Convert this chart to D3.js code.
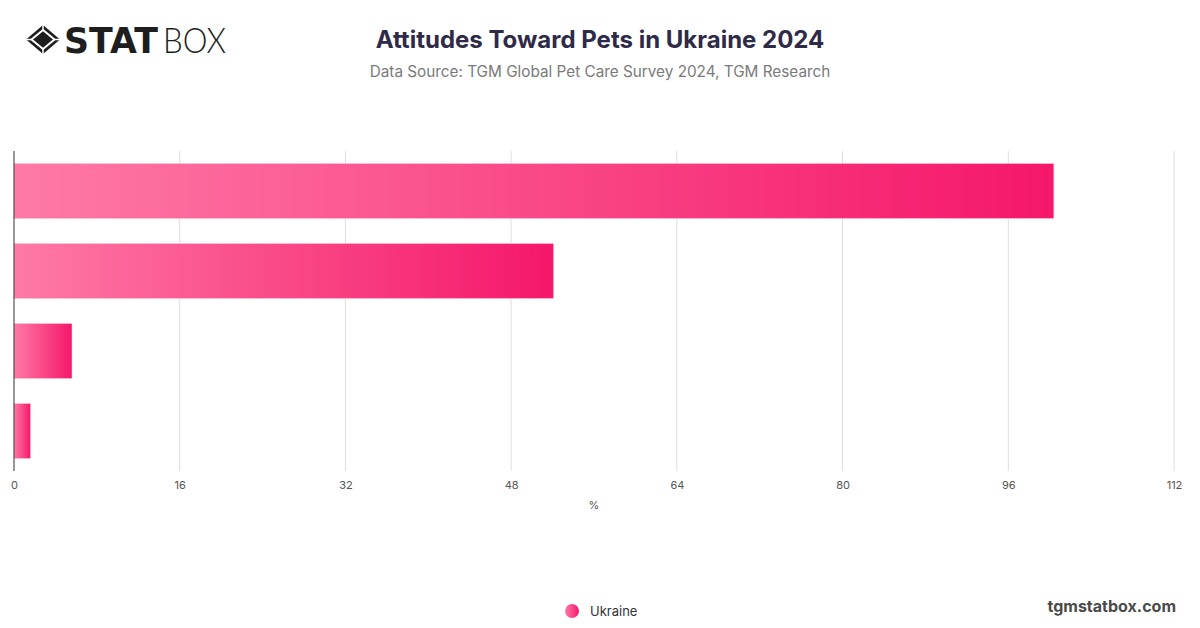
<!DOCTYPE html>
<html>
<head>
<meta charset="utf-8">
<script src="https://cdn.jsdelivr.net/npm/d3@7"></script>
<style>
  body { margin: 0; background: #fff; }
  svg { display: block; font-family: Inter, "Noto Sans", sans-serif; }
</style>
</head>
<body>
<svg id="chart" width="1200" height="628"></svg>
<script>
// categories are not labelled on the reference chart, kept only as keys
const categories = ["Answer 1", "Answer 2", "Answer 3", "Answer 4"];
const ukraineValues = [100.4, 52.1, 5.6, 1.6];
const xTicks = [0, 16, 32, 48, 64, 80, 96, 112];
const seriesName = "Ukraine";

const width = 1200, height = 628;
const margin = { top: 151, right: 26, bottom: 157, left: 14 };
const innerW = width - margin.left - margin.right;
const innerH = height - margin.top - margin.bottom;

const svg = d3.select('svg#chart');
const defs = svg.append('defs');

const grad = defs.append('linearGradient')
  .attr('id', 'barGrad')
  .attr('x1', '0%').attr('x2', '100%')
  .attr('y1', '0%').attr('y2', '0%');
grad.append('stop').attr('offset', '0%').attr('stop-color', '#fe7aa6');
grad.append('stop').attr('offset', '100%').attr('stop-color', '#f5176a');

const dotGrad = defs.append('linearGradient')
  .attr('id', 'dotGrad')
  .attr('x1', '0%').attr('x2', '100%');
dotGrad.append('stop').attr('offset', '0%').attr('stop-color', '#fe7aa6');
dotGrad.append('stop').attr('offset', '100%').attr('stop-color', '#f5176a');

// header: logo
const logo = svg.append('g').attr('transform', 'translate(26,25)');
logo.append('path')
  .attr('d', 'M17,0 L34,14.5 L17,29 L0,14.5 Z')
  .attr('fill', '#1e1e1e');
logo.append('path')
  .attr('d', 'M17,5 L28.5,14.5 L17,24 L5.5,14.5 Z')
  .attr('stroke', '#fff').attr('stroke-width', 2).attr('fill', '#1e1e1e');
logo.append('path')
  .attr('d', 'M17,0 L17,5 M34,14.5 L28.5,14.5 M17,29 L17,24 M0,14.5 L5.5,14.5')
  .attr('stroke', '#fff').attr('stroke-width', 1.5);
logo.append('text')
  .attr('x', 38).attr('y', 28)
  .attr('font-family', '"DejaVu Sans", sans-serif')
  .attr('font-size', 36)
  .attr('font-weight', 900)
  .attr('textLength', 94)
  .attr('lengthAdjust', 'spacingAndGlyphs')
  .attr('fill', '#1e1e1e')
  .text('STAT');
logo.append('text')
  .attr('x', 137).attr('y', 28)
  .attr('font-family', 'Lato, sans-serif')
  .attr('font-size', 36)
  .attr('font-weight', 300)
  .attr('textLength', 63)
  .attr('lengthAdjust', 'spacingAndGlyphs')
  .attr('fill', '#1e1e1e')
  .text('BOX');

svg.append('text')
  .attr('x', 600).attr('y', 48)
  .attr('text-anchor', 'middle')
  .attr('font-size', 24)
  .attr('font-weight', 700)
  .attr('fill', '#2e2a48')
  .text('Attitudes Toward Pets in Ukraine 2024');

svg.append('text')
  .attr('x', 600).attr('y', 77)
  .attr('text-anchor', 'middle')
  .attr('font-size', 15.3)
  .attr('fill', '#7a7a7a')
  .text('Data Source: TGM Global Pet Care Survey 2024, TGM Research');

const g = svg.append('g')
  .attr('transform', `translate(${margin.left},${margin.top})`);

const xScale = d3.scaleLinear()
  .domain([0, 112])
  .range([0, innerW]);

const yScale = d3.scaleBand()
  .domain(categories)
  .range([0, innerH])
  .paddingInner(0.3125)
  .paddingOuter(0.15625);

// grid
g.append('g')
  .selectAll('line')
  .data(xTicks.slice(1))
  .enter()
  .append('line')
  .attr('x1', d => xScale(d)).attr('x2', d => xScale(d))
  .attr('y1', 0).attr('y2', innerH)
  .attr('stroke', '#dedede')
  .attr('stroke-width', 1);

const xAxis = d3.axisBottom(xScale)
  .tickValues(xTicks)
  .tickSize(0)
  .tickPadding(10);

const xAxisG = g.append('g')
  .attr('transform', `translate(0,${innerH})`)
  .call(xAxis);
xAxisG.select('.domain').remove();
xAxisG.selectAll('text')
  .attr('font-family', 'Inter, sans-serif')
  .attr('font-size', 11)
  .attr('fill', '#555');

g.append('text')
  .attr('x', innerW / 2).attr('y', innerH + 38)
  .attr('text-anchor', 'middle')
  .attr('font-size', 11)
  .attr('fill', '#555')
  .text('%');

// bars
g.append('g')
  .selectAll('rect')
  .data(ukraineValues)
  .enter()
  .append('rect')
  .attr('x', xScale(0))
  .attr('y', (d, i) => yScale(categories[i]))
  .attr('width', d => xScale(d) - xScale(0))
  .attr('height', yScale.bandwidth())
  .attr('fill', 'url(#barGrad)')
  .attr('stroke', '#ffc1d6')
  .attr('stroke-width', 0.6);

// y axis line
g.append('line')
  .attr('x1', 0).attr('x2', 0)
  .attr('y1', 0).attr('y2', innerH)
  .attr('stroke', '#333')
  .attr('stroke-width', 1);

// legend
const legend = svg.append('g').attr('transform', 'translate(572,611)');
legend.append('circle')
  .attr('r', 7)
  .attr('fill', 'url(#dotGrad)');
legend.append('text')
  .attr('x', 18).attr('y', 5)
  .attr('font-size', 13)
  .attr('fill', '#333')
  .text(seriesName);

svg.append('text')
  .attr('x', 1176).attr('y', 612)
  .attr('text-anchor', 'end')
  .attr('font-size', 16)
  .attr('font-weight', 700)
  .attr('fill', '#4a4a4a')
  .text('tgmstatbox.com');
</script>
</body>
</html>
